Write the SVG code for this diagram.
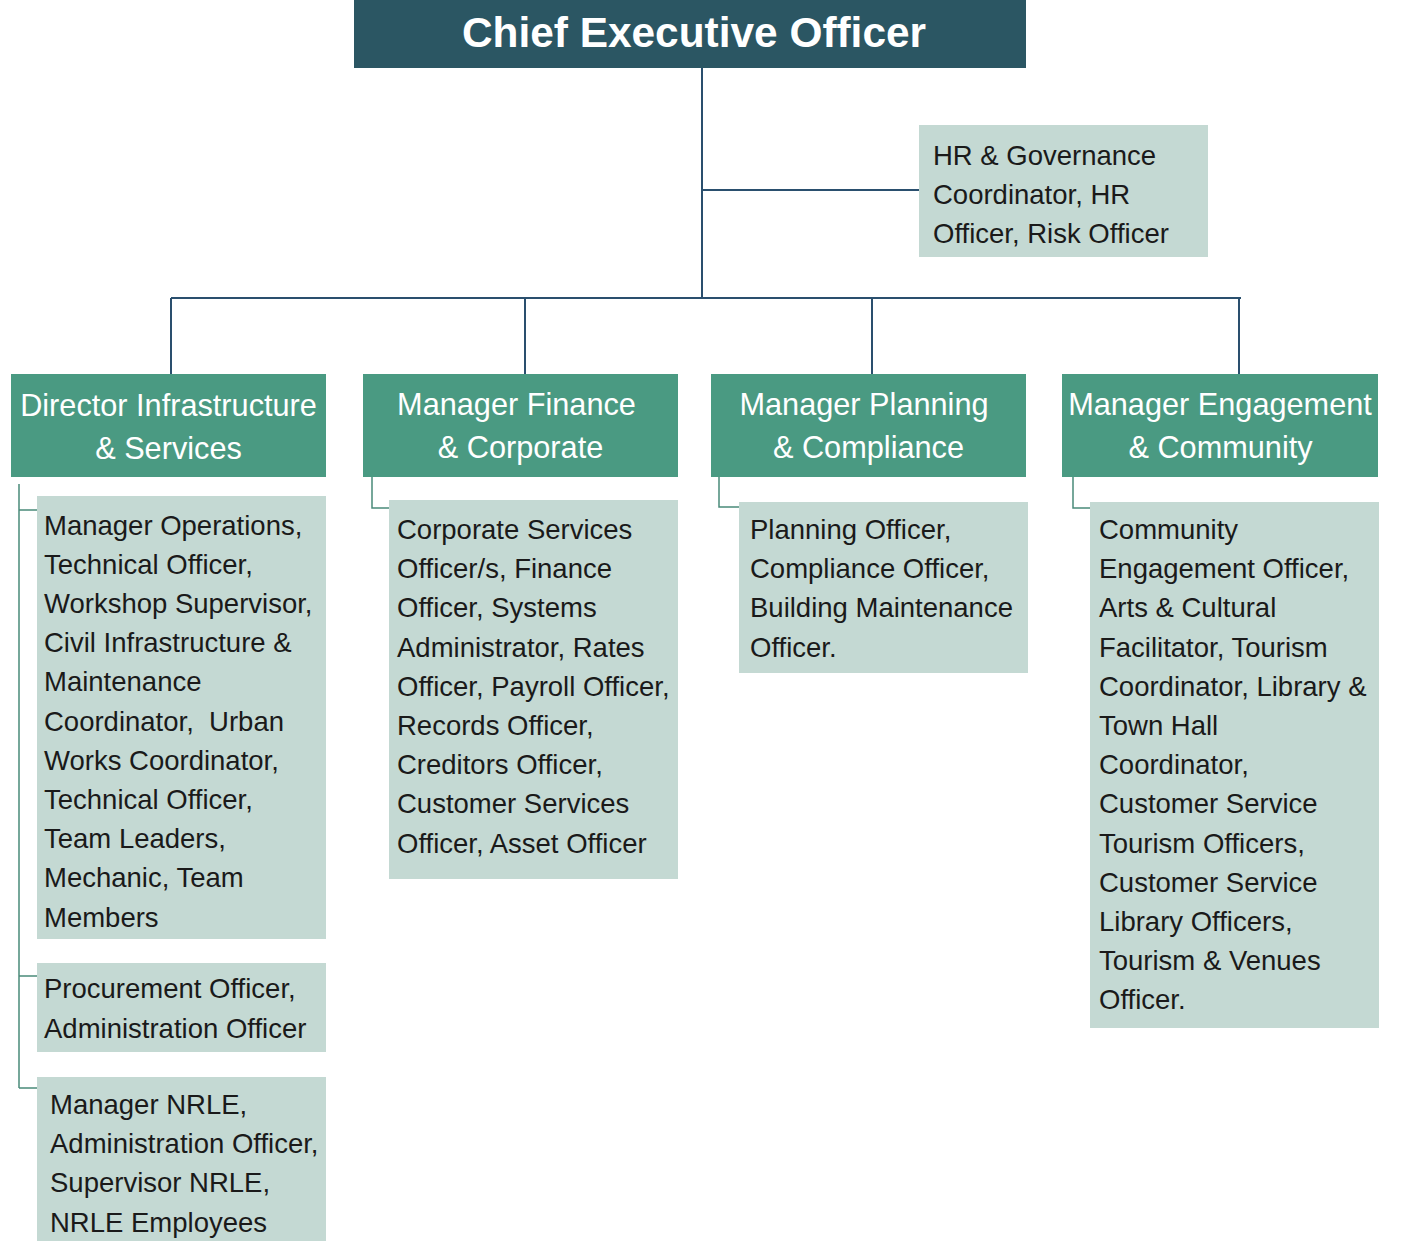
<svg xmlns="http://www.w3.org/2000/svg" width="1414" height="1248" viewBox="0 0 1414 1248">
<style>
.ceo{fill:#2b5663}
.mgr{fill:#4a9a82}
.sub{fill:#c4d9d3}
.t-ceo{font-family:"Liberation Sans",Arial,sans-serif;font-weight:bold;font-size:42.4px;fill:#ffffff;text-anchor:middle}
.t-mgr{font-family:"Liberation Sans",Arial,sans-serif;font-size:30.7px;fill:#ffffff;text-anchor:middle}
.t-sub{font-family:"Liberation Sans",Arial,sans-serif;font-size:27.5px;fill:#1a1a1a}
.main{stroke:#2a4f6e;stroke-width:2;fill:none}
.minor{stroke:#4a8a7a;stroke-width:1.5;fill:none}
</style>
<rect width="1414" height="1248" fill="#ffffff"/>
<g id="connectors">
<path class="main" d="M702 68V298M702 190H920M171 298H1241M171 298V374M525 298V374M872 298V374M1239 298V374"/>
<path class="minor" d="M19 484V1088M19 510H37M19 976H37M19 1088H37"/>
<path class="minor" d="M372 477V508H389"/>
<path class="minor" d="M719 477V507H739"/>
<path class="minor" d="M1073 477V508H1090"/>
</g>
<g id="ceo">
<rect class="ceo" x="354" y="0" width="672" height="68"/>
<text class="t-ceo" x="694" y="47">Chief Executive Officer</text>
</g>
<g id="hr">
<rect class="sub" x="919" y="125" width="289" height="132"/>
<text class="t-sub" x="933"><tspan x="933" y="165">HR &amp; Governance</tspan><tspan x="933" y="204">Coordinator, HR</tspan><tspan x="933" y="243">Officer, Risk Officer</tspan></text>
</g>
<g id="director">
<rect class="mgr" x="11" y="374" width="315" height="103"/>
<text class="t-mgr"><tspan x="168.5" y="416">Director Infrastructure</tspan><tspan x="168.5" y="459">&amp; Services</tspan></text>
</g>
<g id="finance">
<rect class="mgr" x="363" y="374" width="315" height="103"/>
<text class="t-mgr"><tspan x="516.5" y="415">Manager Finance</tspan><tspan x="520.5" y="458">&amp; Corporate</tspan></text>
</g>
<g id="planning">
<rect class="mgr" x="711" y="374" width="315" height="103"/>
<text class="t-mgr"><tspan x="864" y="415">Manager Planning</tspan><tspan x="868.5" y="458">&amp; Compliance</tspan></text>
</g>
<g id="engagement">
<rect class="mgr" x="1062" y="374" width="316" height="103"/>
<text class="t-mgr"><tspan x="1220" y="415">Manager Engagement</tspan><tspan x="1220.5" y="458">&amp; Community</tspan></text>
</g>
<g id="director-staff-1">
<rect class="sub" x="37" y="496" width="289" height="443"/>
<text class="t-sub"><tspan x="44" y="535">Manager Operations,</tspan><tspan x="44" y="574">Technical Officer,</tspan><tspan x="44" y="613">Workshop Supervisor,</tspan><tspan x="44" y="652">Civil Infrastructure &amp;</tspan><tspan x="44" y="691">Maintenance</tspan><tspan x="44" y="731" xml:space="preserve">Coordinator,  Urban</tspan><tspan x="44" y="770">Works Coordinator,</tspan><tspan x="44" y="809">Technical Officer,</tspan><tspan x="44" y="848">Team Leaders,</tspan><tspan x="44" y="887">Mechanic, Team</tspan><tspan x="44" y="927">Members</tspan></text>
</g>
<g id="director-staff-2">
<rect class="sub" x="37" y="963" width="289" height="89"/>
<text class="t-sub"><tspan x="44" y="998">Procurement Officer,</tspan><tspan x="44" y="1038">Administration Officer</tspan></text>
</g>
<g id="director-staff-3">
<rect class="sub" x="37" y="1077" width="289" height="164"/>
<text class="t-sub"><tspan x="50" y="1114">Manager NRLE,</tspan><tspan x="50" y="1153">Administration Officer,</tspan><tspan x="50" y="1192">Supervisor NRLE,</tspan><tspan x="50" y="1232">NRLE Employees</tspan></text>
</g>
<g id="finance-staff">
<rect class="sub" x="389" y="500" width="289" height="379"/>
<text class="t-sub"><tspan x="397" y="539">Corporate Services</tspan><tspan x="397" y="578">Officer/s, Finance</tspan><tspan x="397" y="617">Officer, Systems</tspan><tspan x="397" y="657">Administrator, Rates</tspan><tspan x="397" y="696">Officer, Payroll Officer,</tspan><tspan x="397" y="735">Records Officer,</tspan><tspan x="397" y="774">Creditors Officer,</tspan><tspan x="397" y="813">Customer Services</tspan><tspan x="397" y="853">Officer, Asset Officer</tspan></text>
</g>
<g id="planning-staff">
<rect class="sub" x="739" y="502" width="289" height="171"/>
<text class="t-sub"><tspan x="750" y="539">Planning Officer,</tspan><tspan x="750" y="578">Compliance Officer,</tspan><tspan x="750" y="617">Building Maintenance</tspan><tspan x="750" y="657">Officer.</tspan></text>
</g>
<g id="engagement-staff">
<rect class="sub" x="1090" y="502" width="289" height="526"/>
<text class="t-sub"><tspan x="1099" y="539">Community</tspan><tspan x="1099" y="578">Engagement Officer,</tspan><tspan x="1099" y="617">Arts &amp; Cultural</tspan><tspan x="1099" y="657">Facilitator, Tourism</tspan><tspan x="1099" y="696">Coordinator, Library &amp;</tspan><tspan x="1099" y="735">Town Hall</tspan><tspan x="1099" y="774">Coordinator,</tspan><tspan x="1099" y="813">Customer Service</tspan><tspan x="1099" y="853">Tourism Officers,</tspan><tspan x="1099" y="892">Customer Service</tspan><tspan x="1099" y="931">Library Officers,</tspan><tspan x="1099" y="970">Tourism &amp; Venues</tspan><tspan x="1099" y="1009">Officer.</tspan></text>
</g>
</svg>
